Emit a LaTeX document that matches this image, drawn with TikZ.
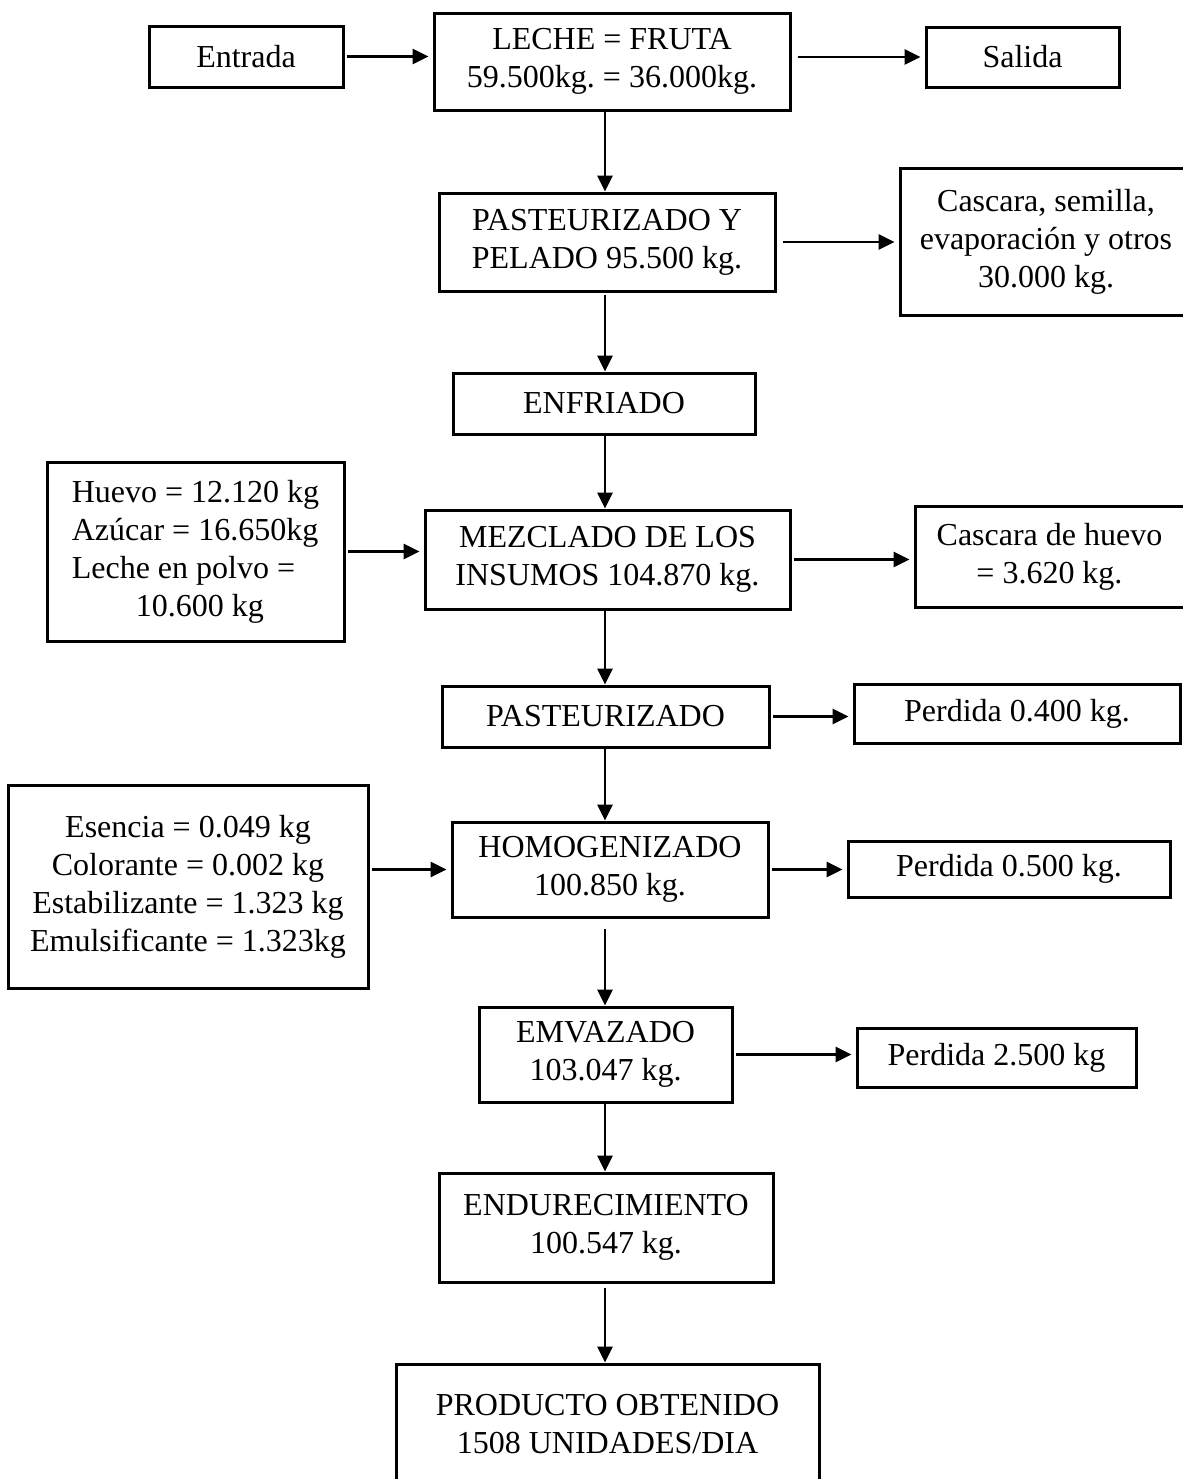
\documentclass[tikz,border=0pt]{standalone}
\usepackage{fontspec}
\setmainfont{Liberation Serif}
\usetikzlibrary{arrows.meta}
\frenchspacing
\begin{document}
\begin{tikzpicture}[x=0.5pt,y=-0.5pt,
  box/.style={draw, line width=1.5pt, inner sep=0pt, align=center,
    font=\fontsize{16pt}{19pt}\selectfont},
  arr/.style={-{Triangle[length=8pt,width=7.5pt]}, line width=1.4pt},
  harr/.style={arr, shorten <=1pt, shorten >=2pt}]
\useasboundingbox (0,0) rectangle (1183,1479);
\clip (0,0) rectangle (1183,1479);
\fill[white] (0,0) rectangle (1183,1479);
\coordinate (xc) at (605,0);

\node[box, minimum width=97pt, minimum height=30.5pt] (entrada) at (246,56.5) {Entrada};
\node[box, minimum width=178pt, minimum height=48.5pt] (leche) at (612,61.5) {LECHE = FRUTA\\59.500kg. = 36.000kg.};
\node[box, minimum width=96.5pt, minimum height=30pt] (salida) at (1022.5,57) {Salida};
\node[box, minimum width=168pt, minimum height=49pt] (pasty) at (607,242) {PASTEURIZADO Y\\PELADO 95.500 kg.};
\node[box, minimum width=146pt, minimum height=73.5pt] (cas1) at (1046,241.5) {Cascara, semilla,\\evaporación y otros\\30.000 kg.};
\node[box, minimum width=151pt, minimum height=30.5pt] (enfr) at (604,403.5) {ENFRIADO};
\node[box, minimum width=148.5pt, minimum height=89.5pt, align=left] (huevo) at (195.5,551.5) {Huevo = 12.120 kg\\Azúcar = 16.650kg\\Leche en polvo =\\\hspace*{32pt}10.600 kg};
\node[box, minimum width=182.5pt, minimum height=49.5pt] (mezcla) at (607.5,559.5) {MEZCLADO DE LOS\\INSUMOS 104.870 kg.};
\node[box, minimum width=134.5pt, minimum height=50.5pt] (cas2) at (1049.5,556.5) {Cascara de huevo\\= 3.620 kg.};
\node[box, minimum width=163.5pt, minimum height=30.5pt] (pasteur) at (605.5,716.5) {PASTEURIZADO};
\node[box, minimum width=163pt, minimum height=29.5pt] (perd1) at (1017,713.5) {Perdida 0.400 kg.};
\node[box, minimum width=180pt, minimum height=101.5pt] (esencia) at (188,886.5) {Esencia = 0.049 kg\\Colorante = 0.002 kg\\Estabilizante = 1.323 kg\\Emulsificante = 1.323kg};
\node[box, minimum width=158pt, minimum height=47.5pt] (homog) at (610,869.5) {HOMOGENIZADO\\100.850 kg.};
\node[box, minimum width=161pt, minimum height=28pt] (perd2) at (1009,869) {Perdida 0.500 kg.};
\node[box, minimum width=126.5pt, minimum height=47.5pt] (emv) at (605.5,1054.5) {EMVAZADO\\103.047 kg.};
\node[box, minimum width=139.5pt, minimum height=29.5pt] (perd3) at (996.5,1057.5) {Perdida 2.500 kg};
\node[box, minimum width=167pt, minimum height=54.5pt] (endur) at (606,1227.5) {ENDURECIMIENTO\\100.547 kg.};
\node[box, minimum width=211.5pt, minimum height=60pt] (prod) at (607.5,1424) {PRODUCTO OBTENIDO\\1508 UNIDADES/DIA};

\draw[harr] (entrada.east) -- (leche.west |- entrada.east);
\draw[harr, shorten <=3pt] (leche.east |- salida.west) -- (salida.west);
\draw[harr, shorten <=3pt] (pasty.east) -- (cas1.west |- pasty.east);
\draw[harr] (huevo.east) -- (mezcla.west |- huevo.east);
\draw[harr] (mezcla.east) -- (cas2.west |- mezcla.east);
\draw[harr] (pasteur.east) -- (perd1.west |- pasteur.east);
\draw[harr] (esencia.east |- homog.west) -- (homog.west);
\draw[harr] (homog.east) -- (perd2.west |- homog.east);
\draw[harr] (emv.east) -- (perd3.west |- emv.east);

\draw[arr] (leche.south -| xc) -- (pasty.north -| xc);
\draw[arr, shorten <=1pt] (pasty.south -| xc) -- (enfr.north -| xc);
\draw[arr] (enfr.south -| xc) -- (mezcla.north -| xc);
\draw[arr] (mezcla.south -| xc) -- (pasteur.north -| xc);
\draw[arr] (pasteur.south -| xc) -- (homog.north -| xc);
\draw[arr, shorten <=5pt] (homog.south -| xc) -- (emv.north -| xc);
\draw[arr] (emv.south -| xc) -- (endur.north -| xc);
\draw[arr, shorten <=2pt] (endur.south -| xc) -- (prod.north -| xc);
\end{tikzpicture}
\end{document}
